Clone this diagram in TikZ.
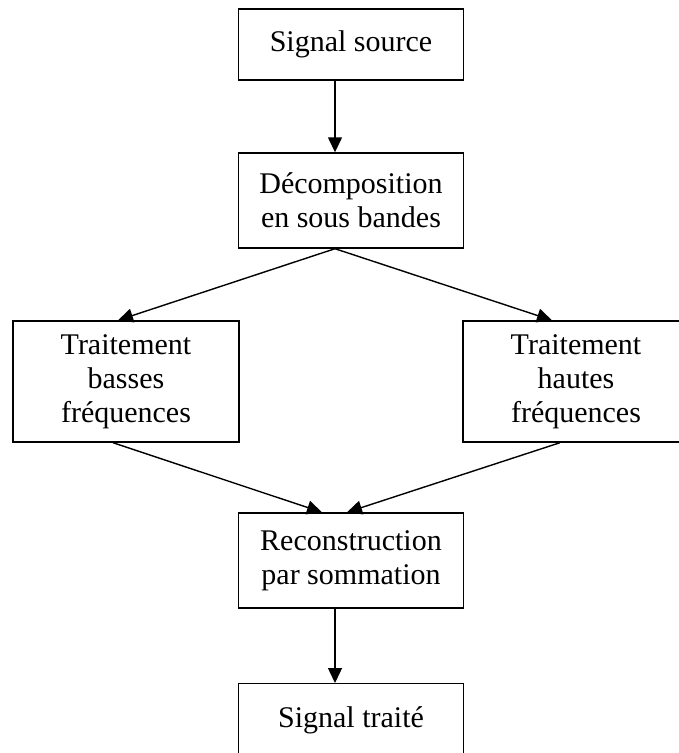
\documentclass[tikz,border=0pt]{standalone}
\usepackage{fontspec}
\setmainfont{Liberation Serif}
\usetikzlibrary{arrows.meta}
\tikzset{
  bloc/.style={draw, line width=1.4pt, minimum width=225pt, align=center,
    inner sep=0pt, font=\fontsize{30}{34}\selectfont},
  fleche/.style={line width=1.4pt, -{Triangle[length=15pt,width=14pt]}}
}
\begin{document}
\begin{tikzpicture}[x=1pt,y=-1pt]
  \useasboundingbox (0,0) rectangle (679,753);
  % blocs
  \node[bloc, minimum height=71pt] (src) at (351,44.5) {Signal source};
  \node[bloc, minimum height=95pt] (dec) at (351,200.5) {Décomposition\\en sous bandes};
  \node[bloc, minimum width=226pt, minimum height=121pt] (bas) at (126,381.5) {Traitement\\basses\\fréquences};
  \node[bloc, minimum width=226pt, minimum height=121pt] (haut) at (576,381.5) {Traitement\\hautes\\fréquences};
  \node[bloc, minimum height=95pt] (rec) at (351,560.5) {Reconstruction\\par sommation};
  \node[bloc, minimum height=74pt, anchor=north] (sortie) at (351,683) {Signal traité};
  % liaisons
  \draw[fleche] ([xshift=-16pt]src.south) -- ([xshift=-16pt]dec.north);
  \draw[fleche] ([xshift=-16pt]dec.south) -- ([xshift=-8pt]bas.north);
  \draw[fleche] ([xshift=-16pt]dec.south) -- ([xshift=-24pt]haut.north);
  \draw[fleche] ([xshift=-13pt]bas.south) -- ([xshift=-29pt]rec.north);
  \draw[fleche] ([xshift=-16pt]haut.south) -- ([xshift=-4pt]rec.north);
  \draw[fleche] ([xshift=-16pt]rec.south) -- ([xshift=-16pt]sortie.north);
\end{tikzpicture}
\end{document}
